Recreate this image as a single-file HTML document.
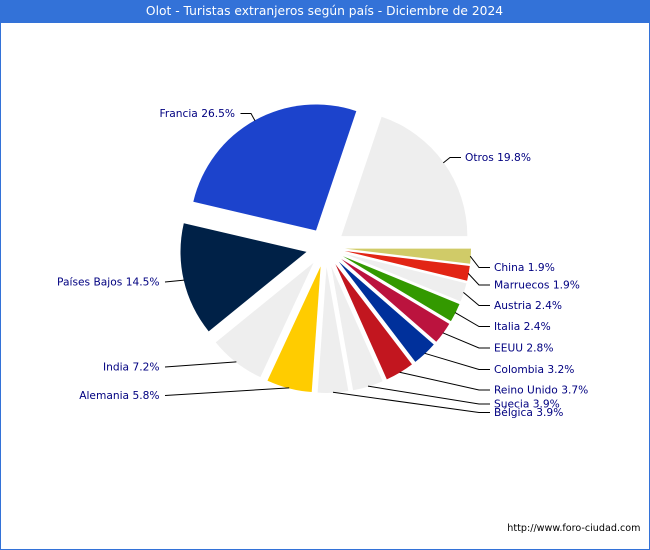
<!DOCTYPE html>
<html lang="es">
<head>
<meta charset="utf-8">
<title>Olot - Turistas extranjeros según país - Diciembre de 2024</title>
<style>
  html, body { margin: 0; padding: 0; background: #fff; }
  #chart-frame { position: relative; width: 650px; height: 550px; box-sizing: border-box; border: 1px solid #3372d8; border-top: none; background: #fff; overflow: hidden; }
  #chart-title { position: absolute; left: -1.5px; top: 0; width: 650px; height: 23px; background: #3372d8; color: #fff; text-align: center; font: 12.27px/23px "DejaVu Sans", "Liberation Sans", sans-serif; }
  #chart-svg { position: absolute; left: -1px; top: 0; }
  #source-url { position: absolute; right: 8.5px; top: 523px; font: 9.6px/12px "DejaVu Sans", "Liberation Sans", sans-serif; color: #000; }
  svg text { font: 10.65px "DejaVu Sans", "Liberation Sans", sans-serif; fill: #000080; }
</style>
</head>
<body>
<div id="chart-frame">
  <div id="chart-title">Olot - Turistas extranjeros según país - Diciembre de 2024</div>
  <svg id="chart-svg" width="650" height="550" viewBox="0 0 650 550"></svg>
  <div id="source-url">http://www.foro-ciudad.com</div>
</div>
<script>
const categories = ["Otros", "Francia", "Países Bajos", "India", "Alemania", "Bélgica", "Suecia", "Reino Unido", "Colombia", "EEUU", "Italia", "Austria", "Marruecos", "China"];
const shares = [19.8, 26.5, 14.5, 7.2, 5.8, 3.9, 3.9, 3.7, 3.2, 2.8, 2.4, 2.4, 1.9, 1.9];
const sliceColors = ["#eeeeee", "#1c43cc", "#002147", "#eeeeee", "#ffcc00", "#eeeeee", "#eeeeee", "#c2161f", "#00309b", "#bb133e", "#339900", "#eeeeee", "#e22515", "#d0cb68"];

/* Label layout (not data): where each text label is placed. */
const labelColumn = [465, 235, 159.5, 159.5, 159.5, 494, 494, 494, 494, 494, 494, 494, 494, 494];
const labelRow = [157, 113, 281.5, 366.5, 395, 412, 403.5, 389.5, 369, 347.5, 326, 305, 284.5, 267];

const svgNS = "http://www.w3.org/2000/svg";
const svg = document.getElementById("chart-svg");
const cx = 325.5, cy = 247.5, radius = 126, explode = 19.5;
const total = shares.reduce(function (a, b) { return a + b; }, 0);

function angleOf(cumulative) { return cumulative / total * 2 * Math.PI; }
function polarX(angle, r) { return cx + r * Math.cos(angle); }
function polarY(angle, r) { return cy - r * Math.sin(angle); }

let cumulative = 0;
shares.forEach(function (value, i) {
  const a0 = angleOf(cumulative);
  const a1 = angleOf(cumulative + value);
  const mid = (a0 + a1) / 2;
  cumulative += value;

  const tipX = polarX(mid, explode);
  const tipY = polarY(mid, explode);
  const large = (a1 - a0) > Math.PI ? 1 : 0;
  const d = "M" + tipX.toFixed(2) + " " + tipY.toFixed(2) +
    " L" + (tipX + radius * Math.cos(a0)).toFixed(2) + " " + (tipY - radius * Math.sin(a0)).toFixed(2) +
    " A" + radius + " " + radius + " 0 " + large + " 0 " +
    (tipX + radius * Math.cos(a1)).toFixed(2) + " " + (tipY - radius * Math.sin(a1)).toFixed(2) + " Z";

  const slug = categories[i].toLowerCase().normalize("NFD").replace(/[\u0300-\u036f]/g, "").replace(/\s+/g, "-");

  const slice = document.createElementNS(svgNS, "path");
  slice.setAttribute("d", d);
  slice.setAttribute("fill", sliceColors[i]);
  
  
  svg.appendChild(slice);

  const lx = labelColumn[i];
  const ly = labelRow[i];
  const isLeft = lx < cx && mid > Math.PI * 0.6;
  const startX = polarX(mid, radius + explode - 0.5);
  const startY = polarY(mid, radius + explode - 0.5);
  const endX = isLeft ? lx + 5.5 : lx - 4;
  const elbowX = isLeft ? (lx < 200 ? endX : lx + 16) : lx - 15;

  const leader = document.createElementNS(svgNS, "polyline");
  leader.setAttribute("points", startX.toFixed(1) + "," + startY.toFixed(1) + " " + elbowX + "," + (ly + 0.5) + " " + endX + "," + (ly + 0.5));
  leader.setAttribute("fill", "none");
  leader.setAttribute("stroke", "#000");
  leader.setAttribute("stroke-width", "1");
  
  
  svg.appendChild(leader);

  const label = document.createElementNS(svgNS, "text");
  label.setAttribute("x", lx);
  label.setAttribute("y", ly + 4);
  label.setAttribute("text-anchor", isLeft ? "end" : "start");
  label.textContent = categories[i] + " " + value.toFixed(1) + "%";
  
  
  svg.appendChild(label);
});
</script>
</body>
</html>
